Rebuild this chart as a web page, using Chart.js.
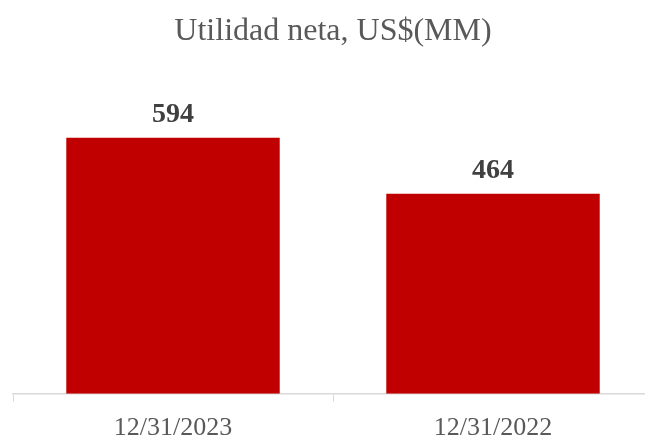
<!DOCTYPE html>
<html>
<head>
<meta charset="utf-8">
<script src="https://cdn.jsdelivr.net/npm/chart.js@4/dist/chart.umd.min.js"></script>
<style>
  html, body { margin: 0; padding: 0; background: #fff; overflow: hidden; }
  #wrap { position: relative; width: 665px; height: 455px; }
</style>
</head>
<body>
<div id="wrap"><canvas id="c"></canvas></div>
<script>
const titleText = 'Utilidad neta, US$(MM)';
const categories = ['12/31/2023', '12/31/2022'];
const values = [594, 464];

const serif = "'Liberation Serif', 'Times New Roman', serif";

const labelPlugin = {
  id: 'barLabels',
  afterDatasetsDraw(chart) {
    const ctx = chart.ctx;
    const meta = chart.getDatasetMeta(0);
    ctx.save();
    ctx.font = 'bold 28px ' + serif;
    ctx.fillStyle = '#404040';
    ctx.textAlign = 'center';
    ctx.textBaseline = 'alphabetic';
    meta.data.forEach((bar, i) => {
      ctx.fillText(String(values[i]), bar.x, bar.y - 16);
    });
    ctx.restore();
  }
};

new Chart(document.getElementById('c'), {
  type: 'bar',
  data: {
    labels: categories,
    datasets: [{
      data: values,
      backgroundColor: '#C00000',
      borderWidth: 0,
      barPercentage: 0.667,
      categoryPercentage: 1.0
    }]
  },
  options: {
    responsive: true,
    maintainAspectRatio: false,
    animation: false,
    devicePixelRatio: 1,
    layout: { padding: { left: 13, right: 12, top: 0, bottom: 0 } },
    plugins: {
      legend: { display: false },
      tooltip: { enabled: false },
      title: {
        display: true,
        text: titleText,
        color: '#595959',
        font: { family: serif, size: 32, weight: 'normal', lineHeight: 1.2 },
        padding: { top: 12, bottom: 39 }
      }
    },
    scales: {
      x: {
        grid: {
          display: true,
          drawOnChartArea: false,
          drawTicks: true,
          tickLength: 8,
          color: '#d9d9d9',
          offset: true
        },
        border: { display: true, color: '#d9d9d9', width: 1.5 },
        ticks: {
          color: '#595959',
          font: { family: serif, size: 26 },
          padding: 11,
          maxRotation: 0
        }
      },
      y: {
        display: false,
        min: 0,
        max: 706
      }
    }
  },
  plugins: [labelPlugin]
});
</script>
</body>
</html>
